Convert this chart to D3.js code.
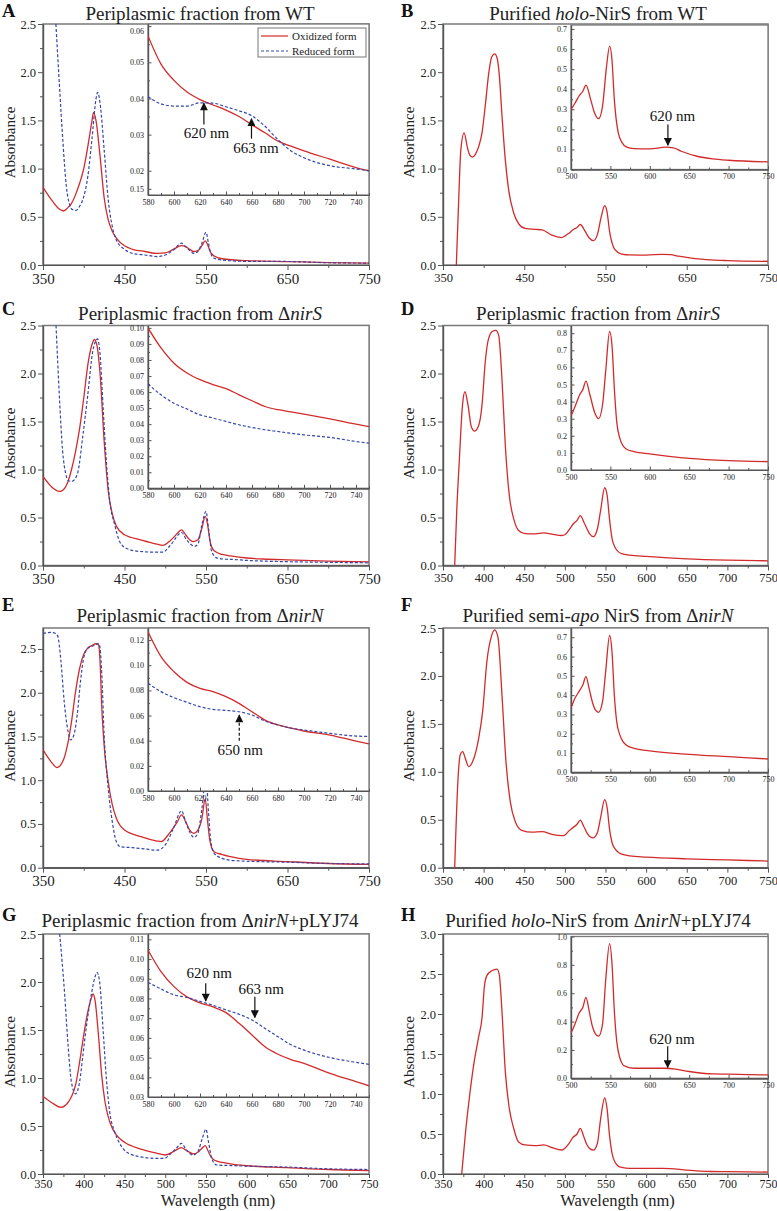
<!DOCTYPE html>
<html><head><meta charset="utf-8">
<script src="https://cdn.jsdelivr.net/npm/d3@7"></script>
<style>body{margin:0;background:#fff}svg{display:block}</style>
</head><body><svg id="c" width="777" height="1211"></svg>
<script>
// ---------------- DATA (wavelength nm / absorbance) ----------------
// Panel A – periplasmic fraction WT
const wlA_ox  = [350,360,370,375,380,385,390,395,400,405,410,412,415,420,425,430,435,440,450,460,475,490,500,510,520,525,530,535,540,545,549,552,555,560,570,600,650,700,750];
const absA_ox = [0.805,0.68,0.58,0.56,0.59,0.64,0.73,0.85,1.0,1.23,1.49,1.58,1.50,1.13,0.70,0.47,0.35,0.28,0.20,0.163,0.14,0.12,0.125,0.163,0.20,0.19,0.163,0.14,0.15,0.20,0.25,0.21,0.14,0.094,0.065,0.045,0.035,0.0255,0.020];
const wlA_red  = [365.8,370,374.5,378.6,382.7,386,390,395,400,405,410,415,417,420,425,430,435,440,450,460,475,490,500,510,520,525,530,535,540,545,550,553,556,560,570,600,650,700,750];
const absA_red = [2.5,1.89,1.27,0.82,0.625,0.575,0.566,0.61,0.71,0.92,1.30,1.72,1.79,1.68,1.20,0.68,0.40,0.26,0.163,0.12,0.104,0.087,0.104,0.156,0.226,0.19,0.15,0.12,0.14,0.226,0.34,0.226,0.12,0.07,0.052,0.038,0.0366,0.0236,0.020];
// zoomed region 580-750 nm (panels A, C, E, G)
const wlInset = [580,590,600,610,620,630,640,650,660,670,680,690,700,720,740,750];
const absA_ox_in  = [0.0573,0.0495,0.045,0.0418,0.0397,0.0382,0.0368,0.035,0.0327,0.0305,0.0282,0.0268,0.0255,0.0232,0.0209,0.020];
const absA_red_in = [0.0405,0.0385,0.0379,0.0379,0.0388,0.0387,0.0377,0.0366,0.0352,0.0323,0.0286,0.0255,0.0236,0.0214,0.0205,0.020];

// Panel B – purified holo-NirS WT
const wlB  = [366.4,369,372,376,380,383,386.5,390,394,398,402,406,410,413.6,416.5,419.3,422.6,426.7,430.8,437,443,451,463.6,472,484,496,500,505,510,515,519,525,530,535,540,545,549,552,555,560,565,570,580,600,620,630,640,660,680,700,750];
const absB = [0,0.6,1.2,1.37,1.22,1.14,1.12,1.15,1.23,1.37,1.65,1.97,2.16,2.19,2.15,1.97,1.55,1.09,0.78,0.54,0.43,0.38,0.37,0.365,0.31,0.285,0.30,0.33,0.365,0.39,0.42,0.348,0.28,0.253,0.315,0.51,0.615,0.547,0.348,0.182,0.133,0.113,0.104,0.103,0.111,0.108,0.091,0.066,0.053,0.046,0.038];

// Panel C – periplasmic fraction ΔnirS
const wlC_ox  = [350,360,370,375,380,385,390,395,400,405,410,413,416,420,425,430,435,440,450,470,490,497,505,510,515,520,525,530,534,540,545,549,552,555,560,570,580,600,620,650,700,750];
const absC_ox = [0.928,0.824,0.772,0.79,0.86,1.0,1.19,1.43,1.745,2.09,2.30,2.354,2.30,2.0,1.3,0.78,0.54,0.41,0.32,0.268,0.222,0.209,0.25,0.29,0.337,0.372,0.32,0.268,0.248,0.268,0.39,0.511,0.424,0.25,0.153,0.115,0.100,0.078,0.0677,0.0583,0.0463,0.0385];
const wlC_red  = [366,370,374,378,381,385,389,393,399,405,411,417,420,424,428,432,438,444,452,469,489,497,505,510,514,520,526,530,536,540,545,550,553,557,563,575,583,600,624,680,750];
const absC_red = [2.5,1.78,1.2,0.95,0.885,0.876,0.90,0.98,1.36,1.78,2.23,2.36,2.2,1.61,1.05,0.668,0.424,0.25,0.18,0.146,0.139,0.139,0.198,0.25,0.30,0.344,0.27,0.23,0.20,0.22,0.424,0.563,0.39,0.146,0.08,0.065,0.063,0.053,0.045,0.0354,0.0281];
const absC_ox_in  = [0.100,0.0875,0.078,0.0719,0.0677,0.0646,0.0621,0.0583,0.0546,0.051,0.049,0.0477,0.0463,0.0433,0.040,0.0385];
const absC_red_in = [0.065,0.0583,0.053,0.0494,0.0458,0.0438,0.0417,0.0396,0.0379,0.0365,0.0354,0.0343,0.0333,0.0317,0.0292,0.0281];

// Panel D – ΔnirS (single spectrum)
const wlD  = [364.4,367,370,374,377,380.8,385,389,394,398,402,406,411,415,418.5,422.6,426.7,431.6,436.9,443,451,463.6,474,484,496.5,500,505,511,515,519,524,530.5,535,540,544,549,552,555,558,562,566,570,580,600,650,700,750];
const absD = [0,0.59,1.08,1.67,1.81,1.67,1.44,1.40,1.46,1.67,2.12,2.36,2.44,2.45,2.40,1.94,1.25,0.73,0.49,0.365,0.333,0.33,0.34,0.326,0.3125,0.32,0.37,0.44,0.47,0.52,0.44,0.33,0.30,0.38,0.575,0.81,0.73,0.478,0.283,0.185,0.142,0.123,0.107,0.094,0.068,0.055,0.049];

// Panel E – periplasmic fraction ΔnirN
const wlE_ox  = [350,360,367,375,380,385,390,395,400,405,410,415,418,420,422,425,430,435,440,450,470,490,495,505,515,520,525,530,535,540,545,549,552,555,560,570,580,600,650,700,750];
const absE_ox = [1.347,1.21,1.145,1.23,1.40,1.67,2.015,2.28,2.44,2.51,2.54,2.56,2.55,2.36,1.86,1.40,0.985,0.72,0.565,0.43,0.355,0.305,0.298,0.393,0.527,0.603,0.527,0.43,0.393,0.43,0.565,0.786,0.527,0.298,0.183,0.15,0.127,0.095,0.07,0.048,0.037];
const wlE_red  = [350,360,365,368,372,376,380,384,388,392,396,400,405,410,415,418,420,422,425,430,435,440,445,460,475,490,500,510,520,525,530,535,540,545,550,553,556,560,570,580,600,650,700,750];
const absE_red = [2.68,2.69,2.68,2.65,2.36,1.90,1.595,1.46,1.52,1.75,2.13,2.40,2.51,2.53,2.55,2.565,2.51,2.24,1.52,0.908,0.527,0.298,0.24,0.229,0.214,0.2,0.26,0.45,0.65,0.527,0.41,0.347,0.393,0.68,1.05,0.64,0.298,0.164,0.107,0.086,0.074,0.063,0.0485,0.0434];
const absE_ox_in  = [0.1266,0.1068,0.0948,0.0864,0.0816,0.079,0.075,0.0697,0.063,0.0564,0.0525,0.050,0.0477,0.0445,0.0397,0.0374];
const absE_red_in = [0.0856,0.079,0.0742,0.0705,0.067,0.0649,0.0641,0.063,0.0604,0.0556,0.0525,0.050,0.0485,0.0458,0.0437,0.0434];

// Panel F – purified semi-apo NirS ΔnirN
const wlF  = [364.4,368.5,371.3,374.2,377.5,381.6,386.5,393.9,398.8,404,409.5,413.6,417.7,422.6,427.5,432.8,439,447,459.5,472,484,496.5,500,505,510,515,519,523,527,531,535,540,544,549,552,555,558,562,566,570,580,600,650,700,750];
const absF = [0,0.93,1.18,1.21,1.14,1.055,1.107,1.35,1.63,2.15,2.41,2.48,2.40,1.80,1.107,0.69,0.48,0.39,0.37,0.376,0.348,0.334,0.34,0.384,0.418,0.453,0.496,0.435,0.366,0.323,0.311,0.366,0.522,0.709,0.626,0.40,0.263,0.194,0.159,0.142,0.124,0.111,0.093,0.081,0.069];

// Panel G – periplasmic fraction ΔnirN+pLYJ74
const wlG_ox  = [350,360,372,380,385,390,395,400,405,410,411.5,414,418,422,426,430,435,440,450,470,490,500,510,520,525,530,535,540,545,549,552,556,560,570,580,600,650,700,750];
const absG_ox = [0.807,0.748,0.695,0.737,0.807,0.928,1.17,1.45,1.69,1.85,1.875,1.80,1.45,1.03,0.755,0.598,0.476,0.407,0.33,0.26,0.216,0.198,0.233,0.275,0.25,0.226,0.209,0.226,0.268,0.296,0.25,0.18,0.146,0.12,0.105,0.086,0.067,0.047,0.036];
const wlG_red  = [370.5,376.6,380.7,384.8,390,395,399,403,409.3,413.4,416.3,419.5,423.6,427.7,431.8,437.9,444,452,468.6,489,499,505,513.6,520,526,534,540,545.5,550,553,557,563,580,600,650,700,750];
const absG_red = [2.5,1.87,1.35,0.963,0.835,0.963,1.24,1.52,1.87,2.04,2.10,2.0,1.52,1.0,0.65,0.44,0.32,0.233,0.18,0.163,0.163,0.198,0.268,0.32,0.25,0.198,0.233,0.372,0.466,0.337,0.163,0.094,0.088,0.082,0.072,0.054,0.0466];
const absG_ox_in  = [0.1046,0.0936,0.086,0.0808,0.0778,0.0757,0.0728,0.0674,0.0615,0.0555,0.0517,0.049,0.0471,0.042,0.0378,0.0357];
const absG_red_in = [0.0882,0.0848,0.0818,0.0805,0.0785,0.0765,0.0742,0.072,0.0691,0.0648,0.0606,0.0565,0.0538,0.050,0.0476,0.0466];

// Panel H – purified holo-NirS ΔnirN+pLYJ74
const wlH  = [373,378,383,388,394,398,401,404,410,416.5,419.3,422.6,426.7,431.6,437,443,451,463.6,474,484,496.5,500,505,510,515,519,523,527,531,535,540,544,549,552,555,558,562,566,570,580,600,620,630,650,680,700,750];
const absH = [0,0.55,1.0,1.38,1.72,1.95,2.35,2.48,2.54,2.56,2.49,2.03,1.28,0.82,0.57,0.40,0.363,0.355,0.363,0.33,0.30,0.321,0.381,0.457,0.50,0.57,0.476,0.369,0.314,0.298,0.381,0.69,0.95,0.81,0.476,0.262,0.143,0.095,0.083,0.071,0.071,0.071,0.067,0.048,0.031,0.029,0.024];

// Tick values
const yTicksMain = [0,0.5,1.0,1.5,2.0,2.5];
const yTicksH = [0,0.5,1.0,1.5,2.0,2.5,3.0];
const xTicks100 = [350,450,550,650,750];
const xTicks50 = [350,400,450,500,550,600,650,700,750];
const insetXTicksA = [580,600,620,640,660,680,700,720,740];
const insetXTicksB = [500,550,600,650,700,750];
const insetYTicksA = [0.015,0.02,0.03,0.04,0.05,0.06];
const insetYLabelsA = ['0.15','0.02','0.03','0.04','0.05','0.06'];

// Annotation arrows (inset coordinates: wavelength / absorbance)
const annA = [{t:'620 nm', wl:623, tail:0.0328, tip:0.0387, tx:625, ty:0.0292},
              {t:'663 nm', wl:659.6, tail:0.0289, tip:0.0344, tx:663, ty:0.0250}];
const annB = [{t:'620 nm', wl:623, tail:0.224, tip:0.121, tx:628.6, ty:0.24}];
const annE = [{t:'650 nm', wl:650.2, tail:0.040, tip:0.0604, tx:651, ty:0.0286, dashed:true}];
const annG = [{t:'620 nm', wl:624.4, tail:0.0877, tip:0.0787, tx:627, ty:0.0902},
              {t:'663 nm', wl:662.2, tail:0.0809, tip:0.0703, tx:667, ty:0.0821}];
const annH = [{t:'620 nm', wl:622.7, tail:0.226, tip:0.076, tx:628.2, ty:0.243}];

// ---------------- DRAWING ----------------
const SERIF = '"Liberation Serif","Times New Roman",serif';
const RED = '#d22b2b', BLUE = '#3446ad', AX = '#555';
const svg = d3.select('#c');
svg.append('rect').attr('width',777).attr('height',1211).attr('fill','#fff');
const defs = svg.append('defs');
defs.append('marker').attr('id','ah').attr('viewBox','0 0 10 10').attr('refX',9).attr('refY',5)
  .attr('markerWidth',9).attr('markerHeight',8).attr('markerUnits','userSpaceOnUse').attr('orient','auto')
  .append('path').attr('d','M0,0L10,5L0,10z').attr('fill','#111');

const cols = [{x0:43,x1:369,ix0:148,tx:200,lx:2,alx:15},{x0:443,x1:768,ix0:571,tx:598,lx:401,alx:414}];
const rows = [{y0:24,y1:265,tb:20,lb:17},{y0:325.5,y1:565.5,tb:320,lb:315},{y0:628,y1:867.7,tb:622,lb:611},{y0:934,y1:1174,tb:927,lb:921}];

function styleAxis(g, fs){
  g.attr('font-family',SERIF).attr('font-size',fs);
  g.select('.domain').attr('stroke',AX).attr('stroke-width',1.2);
  g.selectAll('.tick line').attr('stroke',AX).attr('stroke-width',1);
  g.selectAll('.tick text').attr('fill','#222');
}
const lineGen = (x,y)=>d3.line().x(d=>x(d[0])).y(d=>y(d[1])).curve(d3.curveMonotoneX);
function drawSeries(g, x, y, wl, ab, kind){
  const pts = wl.map((w,i)=>[w,ab[i]]);
  g.append('path').attr('d',lineGen(x,y)(pts)).attr('fill','none')
   .attr('stroke', kind==='ox'?RED:BLUE).attr('stroke-width', kind==='ox'?1.3:1.2)
   .attr('stroke-dasharray', kind==='ox'?null:'3,2');
}
let clipN=0;
function clipRect(x0,y0,x1,y1){
  const id='cp'+(clipN++);
  defs.append('clipPath').attr('id',id).append('rect').attr('x',x0).attr('y',y0).attr('width',x1-x0).attr('height',y1-y0);
  return id;
}

const panels = [
 {L:'A', c:0, r:0, ymax:2.5, yt:yTicksMain, xt:xTicks100, xfs:15, title:[['Periplasmic fraction from WT']],
  series:[[wlA_ox,absA_ox,'ox'],[wlA_red,absA_red,'red']],
  inset:{y0:24,y1:195,xd:[580,750],yd:[0.0133,0.0606],xt:insetXTicksA,yt:insetYTicksA,ylab:insetYLabelsA,yminor:[0.025,0.035,0.045,0.055],
    series:[[wlInset,absA_ox_in,'ox'],[wlInset,absA_red_in,'red']], ann:annA, legend:true}},
 {L:'B', c:1, r:0, ymax:2.5, yt:yTicksMain, xt:xTicks100, xfs:12.5, title:[['Purified '],['holo',1],['-NirS from WT']],
  series:[[wlB,absB,'ox']],
  inset:{y0:25,y1:169.5,xd:[500,750],yd:[0,0.72],xt:insetXTicksB,yt:[0,0.1,0.2,0.3,0.4,0.5,0.6,0.7],fmt:'.1f',yminor:[0.05,0.15,0.25,0.35,0.45,0.55,0.65],
    series:[[wlB,absB,'ox']], ann:annB}},
 {L:'C', c:0, r:1, ymax:2.5, yt:yTicksMain, xt:xTicks100, xfs:15, title:[['Periplasmic fraction from Δ'],['nirS',1]],
  series:[[wlC_ox,absC_ox,'ox'],[wlC_red,absC_red,'red']],
  inset:{y0:325.5,y1:488.3,xd:[580,750],yd:[0,0.1015],xt:insetXTicksA,yt:d3.range(0,0.1001,0.01),fmt:'.2f',yminor:d3.range(0.005,0.1,0.01),
    series:[[wlInset,absC_ox_in,'ox'],[wlInset,absC_red_in,'red']], ann:[]}},
 {L:'D', c:1, r:1, ymax:2.5, yt:yTicksMain, xt:xTicks50, xfs:12.5, title:[['Periplasmic fraction from Δ'],['nirS',1]],
  series:[[wlD,absD,'ox']],
  inset:{y0:325.5,y1:470,xd:[500,750],yd:[0,0.845],xt:insetXTicksB,yt:d3.range(0,0.801,0.1),fmt:'.1f',yminor:d3.range(0.05,0.8,0.1),
    series:[[wlD,absD,'ox']], ann:[]}},
 {L:'E', c:0, r:2, ymax:2.74, yt:yTicksMain, xt:xTicks100, xfs:15, title:[['Periplasmic fraction from Δ'],['nirN',1]],
  series:[[wlE_ox,absE_ox,'ox'],[wlE_red,absE_red,'red']],
  inset:{y0:628,y1:791,xd:[580,750],yd:[0,0.1296],xt:insetXTicksA,yt:d3.range(0,0.1201,0.02),fmt:'.2f',yminor:d3.range(0.01,0.13,0.02),
    series:[[wlInset,absE_ox_in,'ox'],[wlInset,absE_red_in,'red']], ann:annE}},
 {L:'F', c:1, r:2, ymax:2.5, yt:yTicksMain, xt:xTicks50, xfs:12.5, title:[['Purified semi-'],['apo',1],[' NirS from Δ'],['nirN',1]],
  series:[[wlF,absF,'ox']],
  inset:{y0:628,y1:772.3,xd:[500,750],yd:[0,0.748],xt:insetXTicksB,yt:d3.range(0,0.701,0.1),fmt:'.1f',yminor:d3.range(0.05,0.7,0.1),
    series:[[wlF,absF,'ox']], ann:[]}},
 {L:'G', c:0, r:3, ymax:2.5, yt:yTicksMain, xt:xTicks50, xfs:12.5, xlabel:true, title:[['Periplasmic fraction from Δ'],['nirN',1],['+pLYJ74']],
  series:[[wlG_ox,absG_ox,'ox'],[wlG_red,absG_red,'red']],
  inset:{y0:934,y1:1097,xd:[580,750],yd:[0.03,0.1127],xt:insetXTicksA,yt:d3.range(0.03,0.1101,0.01),fmt:'.2f',yminor:d3.range(0.035,0.11,0.01),
    series:[[wlInset,absG_ox_in,'ox'],[wlInset,absG_red_in,'red']], ann:annG}},
 {L:'H', c:1, r:3, ymax:3.0, yt:yTicksH, xt:xTicks50, xfs:12.5, xlabel:true, title:[['Purified '],['holo',1],['-NirS from Δ'],['nirN',1],['+pLYJ74']],
  series:[[wlH,absH,'ox']],
  inset:{y0:936.5,y1:1078.3,xd:[500,750],yd:[0,1.0],xt:insetXTicksB,yt:d3.range(0,1.001,0.2),fmt:'.1f',yminor:d3.range(0.1,1.0,0.2),
    series:[[wlH,absH,'ox']], ann:annH}}
];

function minorBetween(t){ const m=[]; for(let i=0;i<t.length-1;i++) m.push((t[i]+t[i+1])/2); return m; }

panels.forEach(p=>{
  const C=cols[p.c], R=rows[p.r];
  const x=d3.scaleLinear().domain([350,750]).range([C.x0,C.x1]);
  const y=d3.scaleLinear().domain([0,p.ymax]).range([R.y1,R.y0]);
  const g=svg.append('g');
  g.append('rect').attr('x',C.x0).attr('y',R.y0).attr('width',C.x1-C.x0).attr('height',R.y1-R.y0)
    .attr('fill','none').attr('stroke','#7a7a7a').attr('stroke-width',1.5);
  const bottomRow = p.xlabel;
  const gxm=g.append('g').attr('transform',`translate(0,${R.y1})`).call(d3.axisBottom(x).tickValues(minorBetween(p.xt)).tickSize(3).tickSizeOuter(0).tickFormat(''));
  styleAxis(gxm,10);
  const gx=g.append('g').attr('transform',`translate(0,${R.y1})`).call(d3.axisBottom(x).tickValues(p.xt).tickSize(bottomRow?4:5).tickSizeOuter(0).tickPadding(bottomRow?1.5:3).tickFormat(d3.format('d')));
  styleAxis(gx,bottomRow?12:p.xfs);
  const gym=g.append('g').attr('transform',`translate(${C.x0},0)`).call(d3.axisLeft(y).tickValues(minorBetween(p.yt)).tickSize(3).tickSizeOuter(0).tickFormat(''));
  styleAxis(gym,10);
  const gy=g.append('g').attr('transform',`translate(${C.x0},0)`).call(d3.axisLeft(y).tickValues(p.yt).tickSize(5).tickSizeOuter(0).tickPadding(2).tickFormat(d3.format('.1f')));
  styleAxis(gy,12.5);
  const cp=clipRect(C.x0,R.y0,C.x1,R.y1);
  const sg=g.append('g').attr('clip-path',`url(#${cp})`);
  p.series.forEach(s=>drawSeries(sg,x,y,s[0],s[1],s[2]));
  g.append('text').attr('transform',`translate(${C.alx},${(R.y0+R.y1)/2-2}) rotate(-90)`).attr('text-anchor','middle')
    .attr('font-family',SERIF).attr('font-size',15).attr('fill','#222').text('Absorbance');
  const tt=g.append('text').attr('x',C.tx).attr('y',R.tb).attr('text-anchor','middle').attr('font-family',SERIF).attr('font-size',19).attr('fill','#222');
  p.title.forEach(part=>{ const ts=tt.append('tspan').text(part[0]); if(part[1]) ts.attr('font-style','italic'); });
  g.append('text').attr('x',C.lx).attr('y',R.lb).attr('font-family',SERIF).attr('font-size',18.5).attr('font-weight','bold').attr('fill','#111').text(p.L);
  if(p.xlabel){
    g.append('text').attr('x',(C.x0+C.x1)/2+12).attr('y',1205.5).attr('text-anchor','middle').attr('font-family',SERIF).attr('font-size',16.5).attr('fill','#222').text('Wavelength (nm)');
  }
  // inset
  const I=p.inset;
  const ix=d3.scaleLinear().domain(I.xd).range([C.ix0,C.x1]);
  const iy=d3.scaleLinear().domain(I.yd).range([I.y1,I.y0]);
  const ig=svg.append('g');
  ig.append('rect').attr('x',C.ix0).attr('y',I.y0).attr('width',C.x1-C.ix0).attr('height',I.y1-I.y0).attr('fill','#fff')
    .attr('stroke','#7a7a7a').attr('stroke-width',1.3);
  const xStep=I.xt[1]-I.xt[0];
  const ixMinor=I.xt.map(v=>v+xStep/2).filter(v=>v<=I.xd[1]);
  const a1=ig.append('g').attr('transform',`translate(0,${I.y1})`).call(d3.axisBottom(ix).tickValues(ixMinor).tickSizeInner(-2).tickSizeOuter(0).tickFormat(''));
  styleAxis(a1,8);
  const a2=ig.append('g').attr('transform',`translate(0,${I.y1})`).call(d3.axisBottom(ix).tickValues(I.xt).tickSizeInner(-3.5).tickSizeOuter(0).tickPadding(4).tickFormat(d3.format('d')));
  styleAxis(a2,8);
  const a3=ig.append('g').attr('transform',`translate(${C.ix0},0)`).call(d3.axisLeft(iy).tickValues(I.yminor).tickSizeInner(-2).tickSizeOuter(0).tickFormat(''));
  styleAxis(a3,8);
  const yfmt = I.ylab ? (d=>I.ylab[I.yt.indexOf(d)]) : d3.format(I.fmt);
  const a4=ig.append('g').attr('transform',`translate(${C.ix0},0)`).call(d3.axisLeft(iy).tickValues(I.yt).tickSizeInner(-3.5).tickSizeOuter(0).tickPadding(4).tickFormat(yfmt));
  styleAxis(a4,8);
  if(I.ylab){ a4.selectAll('.tick text').filter(d=>d===0.06).attr('dy','0.9em'); }
  const icp=clipRect(C.ix0,I.y0,C.x1,I.y1);
  const isg=ig.append('g').attr('clip-path',`url(#${icp})`);
  I.series.forEach(s=>drawSeries(isg,ix,iy,s[0],s[1],s[2]));
  I.ann.forEach(a=>{
    ig.append('line').attr('x1',ix(a.wl)).attr('x2',ix(a.wl)).attr('y1',iy(a.tail)).attr('y2',iy(a.tip))
      .attr('stroke','#111').attr('stroke-width',1.2).attr('stroke-dasharray',a.dashed?'3,2':null).attr('marker-end','url(#ah)');
    ig.append('text').attr('x',ix(a.tx)).attr('y',iy(a.ty)).attr('text-anchor','middle').attr('font-family',SERIF)
      .attr('font-size',15).attr('fill','#111').text(a.t);
  });
  if(I.legend){
    const lx=C.x1-111, ly=I.y0+4;
    const lg=ig.append('g');
    lg.append('rect').attr('x',lx).attr('y',ly).attr('width',108).attr('height',29).attr('fill','#fff').attr('stroke','#777').attr('stroke-width',1);
    [['Oxidized form','ox'],['Reduced form','red']].forEach((it,i)=>{
      const yy=ly+8+i*15;
      lg.append('line').attr('x1',lx+3).attr('x2',lx+30).attr('y1',yy).attr('y2',yy)
        .attr('stroke',it[1]==='ox'?RED:BLUE).attr('stroke-width',1.2).attr('stroke-dasharray',it[1]==='ox'?null:'3,2');
      lg.append('text').attr('x',lx+34).attr('y',yy+4).attr('font-family',SERIF).attr('font-size',11).attr('fill','#222').text(it[0]);
    });
  }
});
</script></body></html>
